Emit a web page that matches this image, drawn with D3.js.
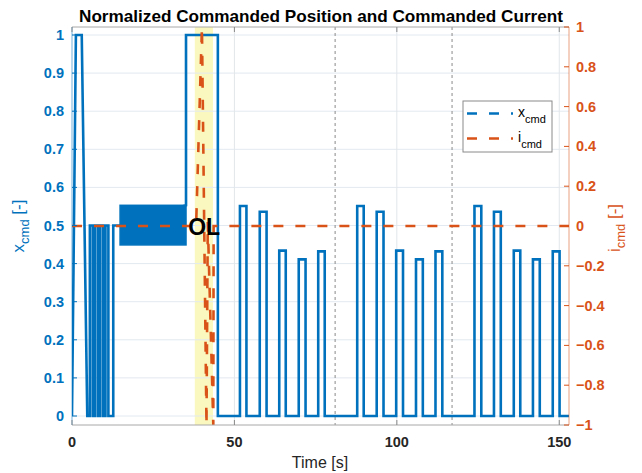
<!DOCTYPE html>
<html><head><meta charset="utf-8">
<script src="https://cdn.jsdelivr.net/npm/d3@7"></script>
<style>
body{margin:0;background:#fff}
svg{display:block}
text{font-family:"Liberation Sans",Arial,Helvetica,sans-serif}
</style>
</head><body>
<svg id="chart" width="642" height="473"></svg>
<script>
// ---------------- DATA ----------------
const titleText = "Normalized Commanded Position and Commanded Current";
const xTicks = [0, 50, 100, 150];
const leftTicks = [0, 0.1, 0.2, 0.3, 0.4, 0.5, 0.6, 0.7, 0.8, 0.9, 1];
const leftTickLabels = ["0","0.1","0.2","0.3","0.4","0.5","0.6","0.7","0.8","0.9","1"];
const rightTicks = [-1, -0.8, -0.6, -0.4, -0.2, 0, 0.2, 0.4, 0.6, 0.8, 1];
const rightTickLabels = ["\u22121","\u22120.8","\u22120.6","\u22120.4","\u22120.2","0","0.2","0.4","0.6","0.8","1"];

// commanded position x_cmd (left axis)
const xcmdTime = [0, 1.2, 3.0, 4.7,
  5.5, 5.5, 6.4, 6.4,  7.1, 7.1, 8.0, 8.0,  8.7, 8.7, 9.6, 9.6,  10.3, 10.3, 11.2, 11.2,
  12.7, 12.7, 14.8, 35.1, 35.1, 44.9, 44.9,
  51.7, 51.7, 53.7, 53.7,  57.8, 57.8, 59.9, 59.9,  63.8, 63.8, 65.8, 65.8,
  69.8, 69.8, 71.9, 71.9,  75.8, 75.8, 77.8, 77.8,
  87.8, 87.8, 89.8, 89.8,  93.8, 93.8, 95.9, 95.9,  99.8, 99.8, 101.9, 101.9,
  105.9, 105.9, 108.0, 108.0,  111.9, 111.9, 114.0, 114.0,
  123.9, 123.9, 126.0, 126.0,  129.9, 129.9, 132.0, 132.0,  136.0, 136.0, 138.0, 138.0,
  141.9, 141.9, 144.0, 144.0,  148.0, 148.0, 150.1, 150.1,
  153];
const xcmdValue = [0, 1, 1, 0,
  0, 0.5, 0.5, 0,  0, 0.5, 0.5, 0,  0, 0.5, 0.5, 0,  0, 0.5, 0.5, 0,
  0, 0.5, 0.5, 0.553, 1, 1, 0,
  0, 0.551, 0.551, 0,  0, 0.536, 0.536, 0,  0, 0.434, 0.434, 0,
  0, 0.411, 0.411, 0,  0, 0.432, 0.432, 0,
  0, 0.551, 0.551, 0,  0, 0.536, 0.536, 0,  0, 0.434, 0.434, 0,
  0, 0.411, 0.411, 0,  0, 0.432, 0.432, 0,
  0, 0.551, 0.551, 0,  0, 0.536, 0.536, 0,  0, 0.434, 0.434, 0,
  0, 0.411, 0.411, 0,  0, 0.432, 0.432, 0,
  0];
// fast oscillation region of x_cmd (rendered as solid band)
const oscStart = 14.8, oscEnd = 35.1, oscLow = 0.449, oscHigh = 0.553;

// commanded current i_cmd (right axis)
const icmdTime  = [0, 38.2, 40.0, 41.4, 41.8, 43.5, 43.6, 153];
const icmdValue = [0, 0.0,  1.0, -1.0,  0.02, -1.0, 0.0,  0];

// OL window and event markers
const olStart = 37.8, olEnd = 43.4;
const olLabel = "OL", olLabelTime = 40.7, olLabelValue = 0.5;
const eventTimes = [81, 117];

const legendNames = [{base:"x", sub:"cmd"}, {base:"i", sub:"cmd"}];

// ---------------- LAYOUT ----------------
const blue = "#0072BD", orange = "#D95319", dark = "#262626";
const L = 72, R = 569, T = 27, B = 425;
const svg = d3.select("#chart");

const x = d3.scaleLinear().domain([0, 153]).range([L, R]);
const yL = d3.scaleLinear().domain([0, 1]).range([416, 35]);
const yR = d3.scaleLinear().domain([-1, 1]).range([B, T]);

svg.append("defs").append("clipPath").attr("id","clip")
  .append("rect").attr("x",L).attr("y",T).attr("width",R-L).attr("height",B-T);

// OL window
svg.append("rect").attr("x", x(olStart)).attr("y", T)
  .attr("width", x(olEnd)-x(olStart)).attr("height", B-T)
  .attr("fill", "#fbf8bf");

// grid
const grid = svg.append("g");
grid.selectAll("line.gy").data(leftTicks).join("line")
  .attr("x1", L).attr("x2", R).attr("y1", d=>yL(d)).attr("y2", d=>yL(d))
  .attr("stroke", "#e2e9f0").attr("stroke-width", 1);
grid.selectAll("line.gx").data(xTicks.filter(d=>d>0)).join("line")
  .attr("x1", d=>x(d)).attr("x2", d=>x(d)).attr("y1", T).attr("y2", B)
  .attr("stroke", "#e2e6ea").attr("stroke-width", 1);

// event markers
svg.append("g").selectAll("line").data(eventTimes).join("line")
  .attr("x1", d=>x(d)).attr("x2", d=>x(d)).attr("y1", T).attr("y2", B)
  .attr("stroke", "#8a8a8a").attr("stroke-width", 1).attr("stroke-dasharray","3,3");

const plot = svg.append("g").attr("clip-path","url(#clip)");

// x_cmd line
const xcmdData = xcmdTime.map((t,i)=>({t, v:xcmdValue[i]}));
plot.append("path").datum(xcmdData)
  .attr("d", d3.line().x(d=>x(d.t)).y(d=>yL(d.v)))
  .attr("fill","none").attr("stroke", blue).attr("stroke-width", 2.6)
  .attr("stroke-linejoin","miter");
plot.append("rect").attr("x", x(oscStart)).attr("y", yL(oscHigh))
  .attr("width", x(oscEnd)-x(oscStart)).attr("height", yL(oscLow)-yL(oscHigh))
  .attr("fill", blue).attr("stroke", blue).attr("stroke-width", 1.5);

// i_cmd line
const icmdData = icmdTime.map((t,i)=>({t, v:icmdValue[i]}));
plot.append("path").datum(icmdData)
  .attr("d", d3.line().x(d=>x(d.t)).y(d=>yR(d.v)))
  .attr("fill","none").attr("stroke", orange).attr("stroke-width", 2.6)
  .attr("stroke-dasharray","10,12");

// OL label
svg.append("text").attr("x", x(olLabelTime)).attr("y", yL(olLabelValue)+9)
  .attr("text-anchor","middle").attr("font-size", 23).attr("fill","#000")
  .attr("font-weight","bold").text(olLabel);

// axes box
svg.append("line").attr("x1",L).attr("x2",R).attr("y1",B).attr("y2",B).attr("stroke","#a8a8a8");
svg.append("line").attr("x1",L).attr("x2",R).attr("y1",T).attr("y2",T).attr("stroke","#a8a8a8");
svg.append("line").attr("x1",L).attr("x2",L).attr("y1",T).attr("y2",B).attr("stroke",blue).attr("stroke-opacity",0.55);
svg.append("line").attr("x1",R).attr("x2",R).attr("y1",T).attr("y2",B).attr("stroke",orange).attr("stroke-opacity",0.55);

// x ticks
const xt = svg.append("g");
xt.selectAll("line.b").data(xTicks).join("line")
  .attr("x1", d=>x(d)).attr("x2", d=>x(d)).attr("y1", B).attr("y2", B-5).attr("stroke","#8a8a8a");
xt.selectAll("line.t").data(xTicks).join("line")
  .attr("x1", d=>x(d)).attr("x2", d=>x(d)).attr("y1", T).attr("y2", T+5).attr("stroke","#8a8a8a");
xt.selectAll("text").data(xTicks).join("text")
  .attr("x", d=>x(d)).attr("y", 447).attr("text-anchor","middle")
  .attr("font-size", 14.5).attr("font-weight","bold").attr("fill", dark).text(d=>d);

// left ticks
const lt = svg.append("g");
lt.selectAll("line").data(leftTicks).join("line")
  .attr("x1", L).attr("x2", L+5).attr("y1", d=>yL(d)).attr("y2", d=>yL(d)).attr("stroke", blue);
lt.selectAll("text").data(leftTicks).join("text")
  .attr("x", 64).attr("y", d=>yL(d)+5).attr("text-anchor","end")
  .attr("font-size", 14.5).attr("font-weight","bold").attr("fill", blue)
  .text((d,i)=>leftTickLabels[i]);

// right ticks
const rt = svg.append("g");
rt.selectAll("line").data(rightTicks).join("line")
  .attr("x1", R-5).attr("x2", R).attr("y1", d=>yR(d)).attr("y2", d=>yR(d)).attr("stroke", orange);
rt.selectAll("text").data(rightTicks).join("text")
  .attr("x", 576).attr("y", d=>yR(d)+5).attr("text-anchor","start")
  .attr("font-size", 14.5).attr("font-weight","bold").attr("fill", orange)
  .text((d,i)=>rightTickLabels[i]);

// title
svg.append("text").attr("x", 321).attr("y", 22).attr("text-anchor","middle")
  .attr("font-size", 17).attr("font-weight","bold").attr("fill","#000")
  .attr("textLength", 484).attr("lengthAdjust","spacingAndGlyphs").text(titleText);

// x label
svg.append("text").attr("x", 320).attr("y", 468).attr("text-anchor","middle")
  .attr("font-size", 16).attr("fill", dark).text("Time [s]");

// y labels
function ylabel(cx, cy, base, sub, color){
  const t = svg.append("text").attr("transform",`translate(${cx},${cy}) rotate(-90)`)
    .attr("text-anchor","middle").attr("font-size",17).attr("fill",color);
  t.append("tspan").text(base);
  t.append("tspan").attr("font-size",13).attr("dy",5).text(sub);
  t.append("tspan").attr("dy",-5).text(" [-]");
}
ylabel(24, 226, "x", "cmd", blue);
ylabel(620, 228, "i", "cmd", orange);

// legend
const lg = svg.append("g");
lg.append("rect").attr("x",463).attr("y",101).attr("width",89).attr("height",51)
  .attr("fill","#fff").attr("stroke","#8a8a8a").attr("stroke-width",1);
const lcol = [blue, orange];
legendNames.forEach((n,i)=>{
  const yy = 113.5 + i*25;
  lg.append("line").attr("x1",467).attr("x2",513).attr("y1",yy).attr("y2",yy)
    .attr("stroke", lcol[i]).attr("stroke-width",2.6).attr("stroke-dasharray","10,12");
  const t = lg.append("text").attr("x",518).attr("y",yy+3).attr("font-size",14).attr("fill","#000");
  t.append("tspan").text(n.base);
  t.append("tspan").attr("font-size",11).attr("dy",6).text(n.sub);
});
</script>
</body></html>
